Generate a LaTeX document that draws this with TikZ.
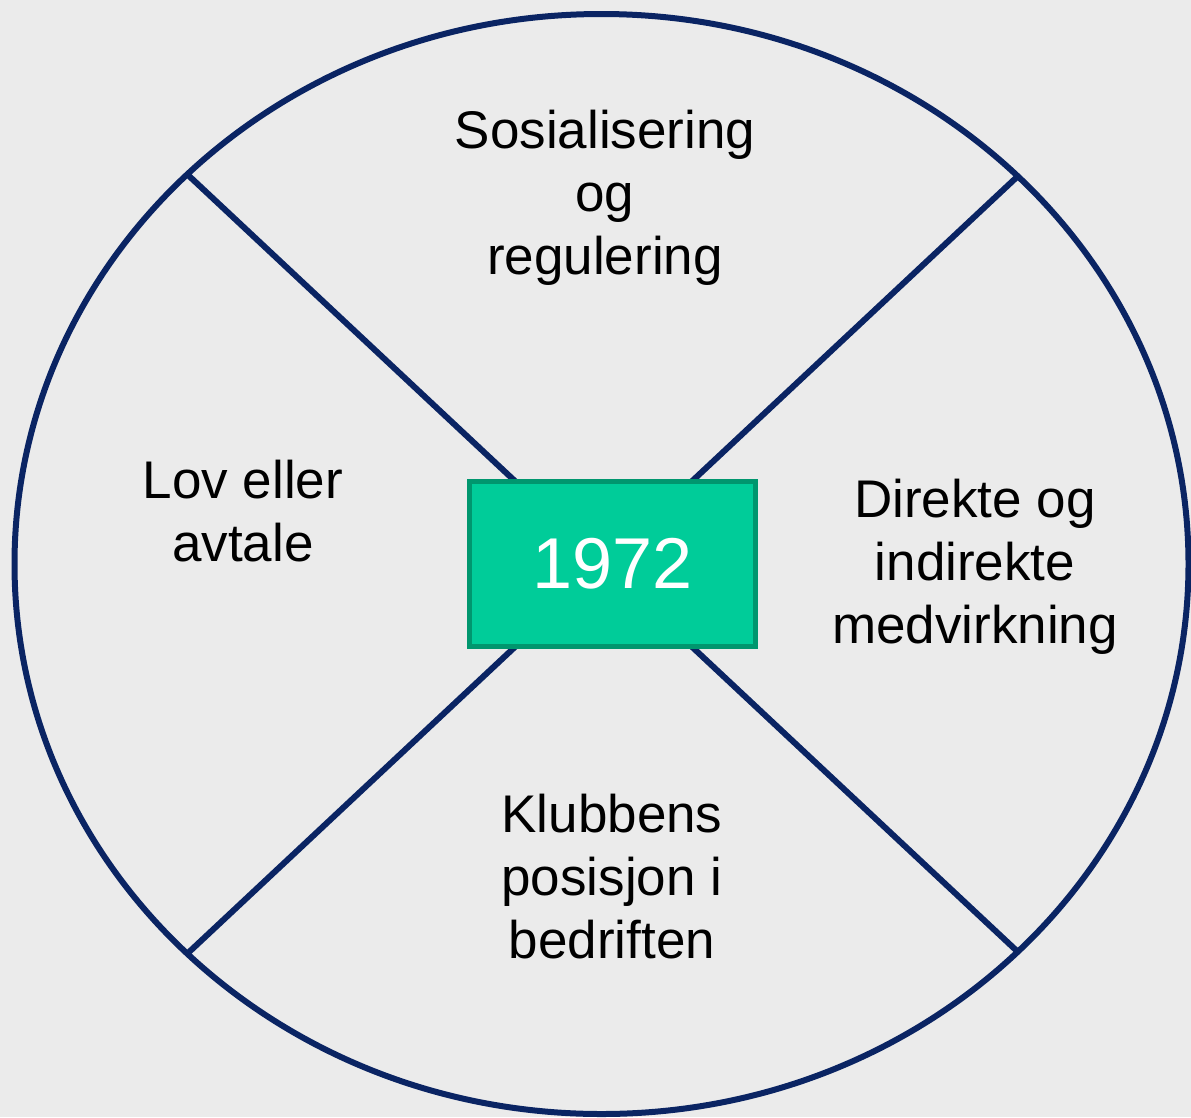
\documentclass[tikz,border=0pt]{standalone}
\usepackage{fontspec}
\setmainfont{Liberation Sans}
\definecolor{bg}{HTML}{EBEBEB}
\definecolor{navy}{HTML}{0A2463}
\definecolor{boxgreen}{HTML}{00CC99}
\definecolor{boxedge}{HTML}{00966E}
\begin{document}
\begin{tikzpicture}[x=1pt,y=-1pt,
  lbl/.style={align=center,font=\fontsize{53}{63}\selectfont,text=black,inner sep=0pt},
  ring/.style={draw=navy,line width=6pt},
  spoke/.style={draw=navy,line width=6pt}]
\fill[bg] (0,0) rectangle (1191,1117);
\useasboundingbox (0,0) rectangle (1191,1117);
\coordinate (ul) at (188,175);
\coordinate (ur) at (1018,176);
\coordinate (ll) at (188,953);
\coordinate (lr) at (1018,952);
\draw[spoke] (ul) -- (lr);
\draw[spoke] (ur) -- (ll);
\draw[ring] (601.5,564) ellipse [x radius=587, y radius=550];
\node[draw=boxedge,line width=5pt,fill=boxgreen,minimum width=286pt,minimum height=165pt,inner sep=0pt,
  font=\fontsize{72}{86}\selectfont,text=white] (year) at (612.5,564) {1972};
\node[lbl] (top) at (605,198) {Sosialisering\\og\\regulering};
\node[lbl] (left) at (243,511) {Lov eller\\avtale};
\node[lbl] (right) at (975,567) {Direkte og\\indirekte\\medvirkning};
\node[lbl] (bottom) at (612,877) {Klubbens\\posisjon i\\bedriften};
\end{tikzpicture}
\end{document}
